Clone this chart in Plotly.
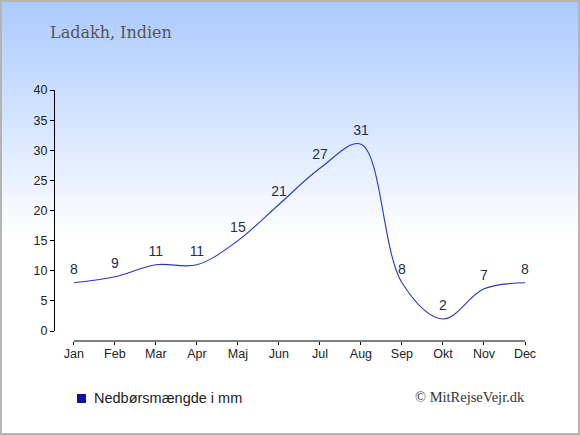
import plotly.graph_objects as go

# data
months = ["Jan", "Feb", "Mar", "Apr", "Maj", "Jun", "Jul", "Aug", "Sep", "Okt", "Nov", "Dec"]
rain_mm = [8, 9, 11, 11, 15, 21, 27, 31, 8, 2, 7, 8]
y_ticks = [0, 5, 10, 15, 20, 25, 30, 35, 40]

W, H = 580, 435
ml, mr, mt, mb = 55, 55, 90, 90
pw, ph = W - ml - mr, H - mt - mb


def px_x(p):
    # pixel -> paper x
    return (p - ml) / pw


def px_y(p):
    # pixel (from top) -> paper y
    return (H - mb - p) / ph


fig = go.Figure()

fig.add_trace(go.Scatter(
    x=months, y=rain_mm,
    mode="lines+markers+text",
    line=dict(color="#2a35c0", width=1.1, shape="spline", smoothing=1),
    marker=dict(size=7, color="rgba(0,0,0,0)"),
    text=[str(v) for v in rain_mm],
    textposition="top center",
    textfont=dict(family="Liberation Sans, Arial", size=14, color="#1f2d4f"),
    hoverinfo="x+y",
    showlegend=False,
    cliponaxis=False,
))

shapes = []
# background gradient (light blue -> white)
top = (170, 202, 255)
n = 60
grad_h = 240
for i in range(n):
    t = i / (n - 1)
    c = tuple(int(round(top[k] + (255 - top[k]) * t)) for k in range(3))
    y0 = grad_h * i / n
    y1 = grad_h * (i + 1) / n + 1
    shapes.append(dict(type="rect", xref="paper", yref="paper", layer="below",
                       x0=px_x(0), x1=px_x(W), y0=px_y(y1), y1=px_y(y0),
                       fillcolor="rgb(%d,%d,%d)" % c, line=dict(width=0)))
# border
shapes.append(dict(type="rect", xref="paper", yref="paper", layer="above",
                   x0=px_x(1), x1=px_x(W - 1), y0=px_y(H - 1), y1=px_y(1),
                   line=dict(color="#b4b4b4", width=2)))
# x axis line from Jan to Dec
xaxis_pos = px_y(341)
shapes.append(dict(type="line", xref="x", yref="paper",
                   x0=0, x1=len(months) - 1, y0=xaxis_pos, y1=xaxis_pos,
                   line=dict(color="black", width=1)))
# legend square
shapes.append(dict(type="rect", xref="paper", yref="paper",
                   x0=px_x(77), x1=px_x(86), y0=px_y(403), y1=px_y(394),
                   fillcolor="#0a14a8", line=dict(width=0)))

fig.update_layout(
    width=W, height=H,
    margin=dict(l=ml, r=mr, t=mt, b=mb),
    paper_bgcolor="white",
    plot_bgcolor="rgba(0,0,0,0)",
    shapes=shapes,
    title=dict(text="Ladakh, Indien", x=50 / W, xanchor="left", xref="container",
               y=1 - 32 / H, yanchor="middle", yref="container",
               font=dict(family="DejaVu Serif", size=16, color="#555555")),
    xaxis=dict(
        type="category", range=[-0.46, len(months) - 1],
        anchor="free", position=xaxis_pos,
        showline=False, showgrid=False, zeroline=False,
        ticks="outside", ticklen=3, tickcolor="black",
        ticklabelstandoff=-2,
        tickfont=dict(family="Liberation Sans, Arial", size=12.5, color="#222222"),
    ),
    yaxis=dict(
        range=[0, 40], domain=[px_y(331), 1],
        tickvals=y_ticks,
        showline=True, linecolor="black", linewidth=1,
        showgrid=False, zeroline=False,
        ticks="outside", ticklen=4, tickcolor="black",
        tickfont=dict(family="Liberation Sans, Arial", size=12.5, color="#222222"),
    ),
    annotations=[
        dict(text="Nedbørsmængde i mm", xref="paper", yref="paper",
             x=px_x(92), y=px_y(398), xanchor="left", yanchor="middle",
             showarrow=False,
             font=dict(family="Liberation Sans, Arial", size=14.5, color="#222222")),
        dict(text="© MitRejseVejr.dk", xref="paper", yref="paper",
             x=px_x(527), y=px_y(397), xanchor="right", yanchor="middle",
             showarrow=False,
             font=dict(family="Liberation Serif, Times New Roman", size=14.5, color="#333333")),
    ],
)

# drop the default page margin so the figure sits at the window's corner
fig.write_html("out.html", config={"displayModeBar": False},
               post_script="document.body.style.margin='0';")
